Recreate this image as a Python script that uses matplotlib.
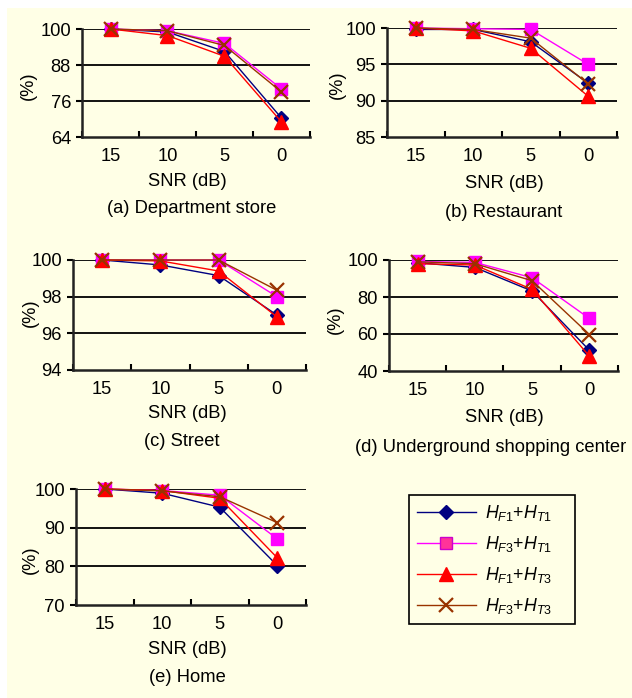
import matplotlib
matplotlib.use("Agg")
import matplotlib.pyplot as plt
from matplotlib.patches import Rectangle
from matplotlib.lines import Line2D

plt.rcParams['font.family'] = ['Liberation Sans', 'DejaVu Sans']
plt.rcParams['mathtext.fontset'] = 'custom'
plt.rcParams['mathtext.rm'] = 'Liberation Sans'
plt.rcParams['mathtext.it'] = 'Liberation Sans:italic'

# ---------------- data ----------------
snr_labels = ["15", "10", "5", "0"]
series_names = [r'$\mathit{H_{F1}}$+$\mathit{H_{T1}}$',
                r'$\mathit{H_{F3}}$+$\mathit{H_{T1}}$',
                r'$\mathit{H_{F1}}$+$\mathit{H_{T3}}$',
                r'$\mathit{H_{F3}}$+$\mathit{H_{T3}}$']

dept_f1t1 = [100, 99.0, 92.5, 70.3]
dept_f3t1 = [100, 99.4, 95.2, 80.0]
dept_f1t3 = [100, 97.8, 90.9, 69.0]
dept_f3t3 = [100, 99.4, 94.5, 79.0]

rest_f1t1 = [99.8, 99.8, 98.1, 92.4]
rest_f3t1 = [100, 99.9, 99.8, 95.0]
rest_f1t3 = [100, 99.6, 97.2, 90.6]
rest_f3t3 = [100, 99.8, 98.6, 92.3]

street_f1t1 = [100, 99.73, 99.15, 97.0]
street_f3t1 = [100, 100, 100, 98.0]
street_f1t3 = [100, 99.95, 99.4, 96.9]
street_f3t3 = [100, 100, 100, 98.35]

under_f1t1 = [98.5, 96.0, 83.2, 51.2]
under_f3t1 = [99.2, 98.7, 90.4, 68.4]
under_f1t3 = [98.0, 97.3, 84.1, 48.0]
under_f3t3 = [99.0, 98.0, 88.8, 59.7]

home_f1t1 = [100, 98.9, 95.3, 80.2]
home_f3t1 = [100, 99.6, 98.4, 87.1]
home_f1t3 = [100, 99.6, 97.6, 82.2]
home_f3t3 = [100, 99.5, 98.0, 91.3]

panel_titles = ["(a) Department store", "(b) Restaurant", "(c) Street",
                "(d) Underground shopping center", "(e) Home"]
panel_yticks = [[64, 76, 88, 100], [85, 90, 95, 100], [94, 96, 98, 100],
                [40, 60, 80, 100], [70, 80, 90, 100]]
panel_data = [
    [dept_f1t1, dept_f3t1, dept_f1t3, dept_f3t3],
    [rest_f1t1, rest_f3t1, rest_f1t3, rest_f3t3],
    [street_f1t1, street_f3t1, street_f1t3, street_f3t3],
    [under_f1t1, under_f3t1, under_f1t3, under_f3t3],
    [home_f1t1, home_f3t1, home_f1t3, home_f3t3],
]

# ---------------- style ----------------
W, H = 632, 698
BG = '#FFFFE6'
FS = 13.2
colors = ['#000080', '#FF00FF', '#FF0000', '#993300']
markers = ['D', 's', '^', 'x']
msizes = [7, 9, 10, 10]

# pixel boxes: left, right, top, bottom
boxes = [(82, 310, 29, 137), (387, 617, 28, 137), (73, 306, 260, 370),
         (389, 618, 260, 371), (76, 306, 489, 605)]
# text positions (px): xlabel (x,y), title (x,y), ylabel (x,y)
xlabel_pos = [(187, 182), (504, 183), (187, 413), (504, 417), (187, 649)]
title_pos = [(192, 209), (504, 212), (182, 442), (491, 447), (187, 677)]
ylabel_pos = [(28, 86), (337, 85), (30, 313), (335, 320), (30, 560)]

fig = plt.figure(figsize=(W / 100, H / 100), dpi=100)
fig.patch.set_facecolor('white')
fig.add_artist(Rectangle((7 / W, 0), 1 - 7 / W, 1 - 8 / H, transform=fig.transFigure,
                         facecolor=BG, edgecolor='none', zorder=-10))

x = [1, 2, 3, 4]
for i in range(5):
    l, r, t, b = boxes[i]
    ax = fig.add_axes([l / W, 1 - b / H, (r - l) / W, (b - t) / H])
    ax.set_facecolor('none')
    yt = panel_yticks[i]
    ax.set_ylim(yt[0], yt[-1])
    ax.set_xlim(0.5, 4.5)
    for k in range(4):
        ax.plot(x, panel_data[i][k], color=colors[k], marker=markers[k],
                markersize=msizes[k], linewidth=1.0,
                markeredgewidth=1.6 if markers[k] == 'x' else 1.0,
                markeredgecolor=colors[k], clip_on=False, zorder=3 + k)
    for v in yt[1:]:
        ax.axhline(v, color='black', linewidth=1.3, zorder=1)
    ax.set_yticks(yt)
    ax.set_yticklabels([str(v) for v in yt], fontsize=FS)
    ax.tick_params(axis='y', direction='out', length=4, width=1.5, pad=4)
    ax.set_xticks(x)
    ax.set_xticklabels(snr_labels, fontsize=FS)
    ax.set_xticks([0.5, 1.5, 2.5, 3.5, 4.5], minor=True)
    ax.tick_params(axis='x', which='major', length=0, pad=8)
    ax.tick_params(axis='x', which='minor', direction='in', length=4, width=1.5)
    for s in ['top', 'right']:
        ax.spines[s].set_visible(False)
    for s in ['left', 'bottom']:
        ax.spines[s].set_linewidth(1.8)
        ax.spines[s].set_color('#222222')
    fig.text(xlabel_pos[i][0] / W, 1 - xlabel_pos[i][1] / H, "SNR (dB)",
             ha='center', va='center', fontsize=FS)
    fig.text(title_pos[i][0] / W, 1 - title_pos[i][1] / H, panel_titles[i],
             ha='center', va='center', fontsize=FS)
    fig.text(ylabel_pos[i][0] / W, 1 - ylabel_pos[i][1] / H, "(%)",
             ha='center', va='center', fontsize=FS, rotation=90)

handles = []
for k in range(4):
    handles.append(Line2D([], [], color=colors[k], marker=markers[k],
                          markersize=msizes[k], linewidth=1.0,
                          markeredgewidth=1.6 if markers[k] == 'x' else 1.0,
                          markerfacecolor=colors[k] if k != 1 else '#FF3399',
                          markeredgecolor=colors[k] if k != 1 else '#CC00CC'))
leg = fig.legend(handles, [n + "    " for n in series_names], loc='upper left',
                 bbox_to_anchor=(409 / W, 1 - 495 / H), fontsize=12.8,
                 frameon=True, fancybox=False, edgecolor='black',
                 facecolor=BG, framealpha=1, handlelength=3.3,
                 labelspacing=0.62, borderpad=0.45, handletextpad=0.5,
                 borderaxespad=0)
leg.get_frame().set_linewidth(1.2)

fig.savefig("out.png", dpi=100, facecolor=fig.get_facecolor())
